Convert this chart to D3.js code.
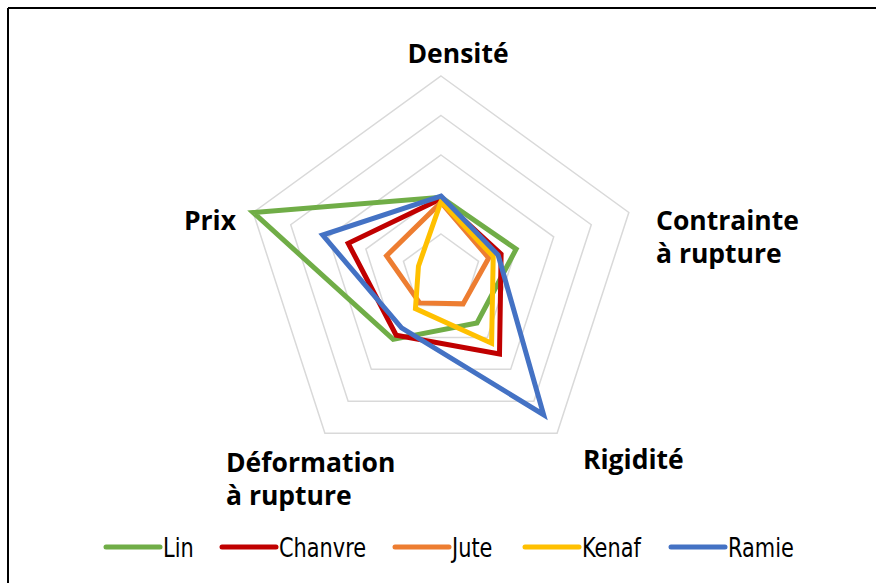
<!DOCTYPE html>
<html>
<head>
<meta charset="utf-8">
<style type="text/css">
	body {
		margin: 0;
		background: white;
	}
	.grid-radar {
		fill: none;
		stroke: #d9d9d9;
		stroke-width: 1.5;
	}
	.line-radar {
		fill: none;
		stroke-width: 5;
		stroke-linejoin: miter;
		stroke-miterlimit: 6;
	}
	.axis-label-radar {
		font-family: "Open Sans", "Noto Sans", sans-serif;
		font-weight: 700;
		font-size: 26.5px;
		fill: #000;
	}
	.legend-label-radar {
		font-family: "Liberation Sans Narrow", "Arial Narrow", "DejaVu Sans Condensed", sans-serif;
		font-stretch: condensed;
		font-size: 27px;
		fill: #000;
	}
</style>
</head>
<body>
<div class="vis-radar"></div>

<script src="https://cdn.jsdelivr.net/npm/d3@7"></script>
<script>

	// Data //
	// ---- //
	let axes = ["Densité", "Contrainte à rupture", "Rigidité", "Déformation à rupture", "Prix"];
	let series = ["Lin", "Chanvre", "Jute", "Kenaf", "Ramie"];
	let colors = ["#70ad47", "#c00000", "#ed7d31", "#ffc000", "#4472c4"];

	let lin     = [1.93, 2.00, 1.55, 2.06, 5.00];
	let chanvre = [1.89, 1.60, 2.52, 1.93, 2.47];
	let jute    = [1.80, 1.27, 0.95, 0.92, 1.45];
	let kenaf   = [1.82, 1.39, 2.18, 1.10, 0.60];
	let ramie   = [1.96, 1.52, 4.42, 1.70, 3.15];
	let values = [lin, chanvre, jute, kenaf, ramie];

	let gridLevels = [1, 2, 3, 4, 5];

	// Setup //
	// ----- //
	let width = 876, height = 583;
	let cx = 441, cy = 273.5, radius = 197.5;

	let r = d3.scaleLinear().domain([0, 5]).range([0, radius]);
	let angle = d3.scalePoint().domain(d3.range(axes.length + 1)).range([0, 2 * Math.PI]);

	let svg = d3.select(".vis-radar")
		.append("svg")
			.attr("width", width)
			.attr("height", height);

	// Frame (top and left edge only)
	svg.append("line")
		.attr("x1", 8).attr("y1", 8).attr("x2", width).attr("y2", 8)
		.style("stroke", "#000").style("stroke-width", 2);
	svg.append("line")
		.attr("x1", 8).attr("y1", 8).attr("x2", 8).attr("y2", height)
		.style("stroke", "#000").style("stroke-width", 2);

	let g = svg.append("g")
		.attr("transform", "translate(" + cx + "," + cy + ")");

	let radial = d3.lineRadial()
		.angle((d, i) => angle(i))
		.radius(d => r(d))
		.curve(d3.curveLinearClosed);

	// GRID
	g.selectAll(".grid-radar")
		.data(gridLevels).enter().append("path")
		.attr("class", "grid-radar")
		.attr("d", lvl => radial(axes.map(() => lvl)));

	// SERIES
	g.selectAll(".line-radar")
		.data(values).enter().append("path")
		.attr("class", "line-radar")
		.attr("d", d => radial(d))
		.style("stroke", (d, i) => colors[i]);

	// AXIS LABELS
	let labelPos = [
		{x: 458, y: 63, anchor: "middle", lines: ["Densité"]},
		{x: 656, y: 230, anchor: "start", lines: ["Contrainte", "à rupture"]},
		{x: 583, y: 469, anchor: "start", lines: ["Rigidité"]},
		{x: 226, y: 472, anchor: "start", lines: ["Déformation", "à rupture"]},
		{x: 236, y: 230, anchor: "end", lines: ["Prix"]}
	];

	labelPos.forEach(p => {
		let t = svg.append("text")
			.attr("class", "axis-label-radar")
			.attr("x", p.x)
			.attr("y", p.y)
			.style("text-anchor", p.anchor);
		p.lines.forEach((l, i) => {
			t.append("tspan")
				.attr("x", p.x)
				.attr("dy", i == 0 ? 0 : 33)
				.text(l);
		});
	});

	// LEGEND
	let legendX = [106, 222, 395, 525, 671];
	let legendY = 547;

	let legend = svg.selectAll(".legend-radar")
		.data(series).enter().append("g")
		.attr("class", "legend-radar")
		.attr("transform", (d, i) => "translate(" + legendX[i] + "," + legendY + ")");

	legend.append("line")
		.attr("x1", 0).attr("x2", 54)
		.attr("y1", 0).attr("y2", 0)
		.style("stroke", (d, i) => colors[i])
		.style("stroke-width", 5)
		.style("stroke-linecap", "round");

	// condensed glyphs: squeeze horizontally to match the narrow legend font
	legend.append("text")
		.attr("class", "legend-label-radar")
		.attr("transform", "translate(57,10) scale(0.86,1)")
		.text(d => d);

</script>
</body>
</html>
